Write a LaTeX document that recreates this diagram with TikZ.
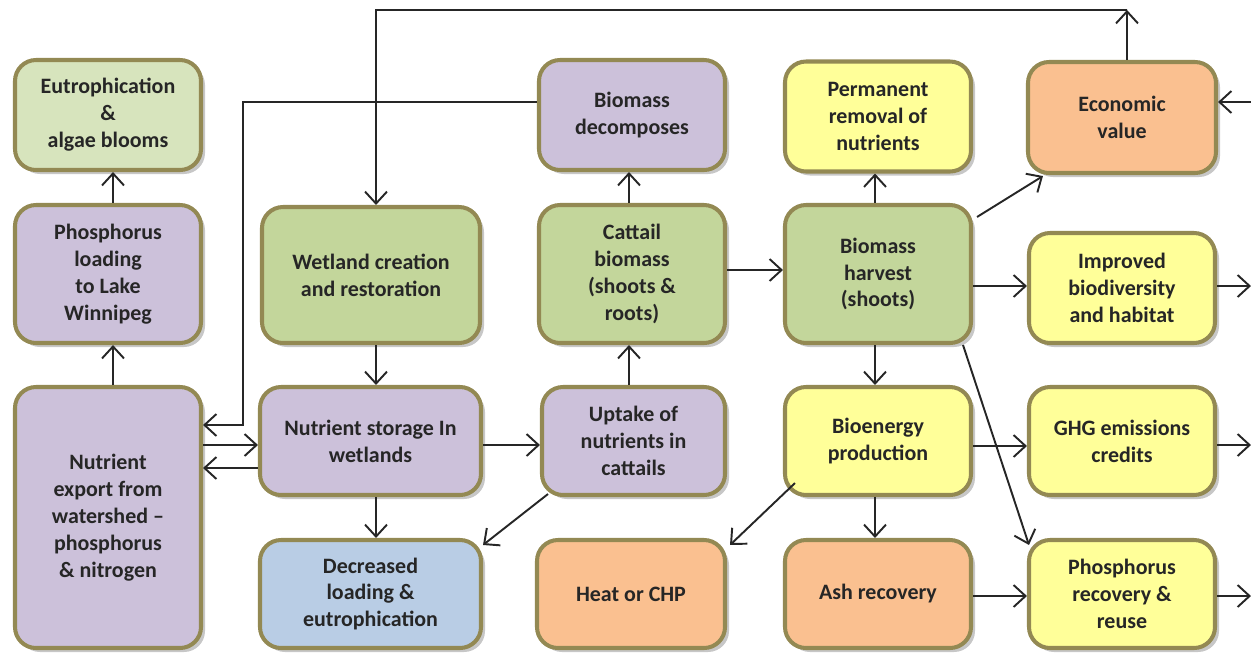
\documentclass[tikz,border=0pt]{standalone}
\usepackage{fontspec}
\setmainfont{Carlito}
\usetikzlibrary{arrows.meta,shadows,positioning}

\definecolor{boxborder}{HTML}{938953}
\definecolor{textgrey}{HTML}{262626}
\definecolor{palegreen}{HTML}{D7E4BD}
\definecolor{midgreen}{HTML}{C3D69B}
\definecolor{lilac}{HTML}{CCC1DA}
\definecolor{paleblue}{HTML}{B9CDE5}
\definecolor{paleyellow}{HTML}{FFFF99}
\definecolor{peach}{HTML}{FAC090}

\begin{document}
\begin{tikzpicture}[->,>={Straight Barb[length=2.4mm,width=4.4mm]},line width=1.1pt,color=textgrey,
  box node/.style={rectangle,rounded corners=0.42cm,draw=boxborder,line width=2.3pt,align=center,
    font=\bfseries\fontsize{12.5}{15.3}\selectfont,text=textgrey,minimum width=3.72cm,
    drop shadow={shadow xshift=0.08cm,shadow yshift=-0.08cm,fill=black!22,opacity=1}},
  light green node/.style={box node,fill=palegreen},
  green node/.style={box node,fill=midgreen},
  purple node/.style={box node,fill=lilac},
  blue node/.style={box node,fill=paleblue},
  yellow node/.style={box node,fill=paleyellow},
  orange node/.style={box node,fill=peach}]

  \useasboundingbox (0,0) rectangle (25.02,-13.12);

  % first column
  \node[light green node,minimum height=2.2cm] (Eutro) at (2.16,-2.30) {Eutrophication\\\&\\algae blooms};
  \node[purple node,minimum height=2.76cm] (PhosLoad) at (2.16,-5.48) {Phosphorus\\loading\\to Lake\\Winnipeg};
  \node[purple node,minimum height=5.22cm] (Export) at (2.16,-10.35) {Nutrient\\export from\\watershed –\\phosphorus\\\& nitrogen};

  % second column
  \node[green node,minimum width=4.36cm,minimum height=2.72cm] (Wetland) at (7.42,-5.50) {Wetland creation\\and restoration};
  \node[purple node,minimum width=4.42cm,minimum height=2.16cm] (Storage) at (7.41,-8.82) {Nutrient storage In\\wetlands};
  \node[blue node,minimum width=4.42cm,minimum height=2.16cm] (Decreased) at (7.41,-11.88) {Decreased\\loading \&\\eutrophication};

  % third column
  \node[purple node,minimum height=2.2cm] (Decompose) at (12.64,-2.30) {Biomass\\decomposes};
  \node[green node,minimum height=2.76cm] (Cattail) at (12.64,-5.48) {Cattail\\biomass\\(shoots \&\\roots)};
  \node[purple node,minimum width=3.66cm,minimum height=2.16cm] (Uptake) at (12.67,-8.82) {Uptake of\\nutrients in\\cattails};
  \node[orange node,minimum width=3.76cm,minimum height=2.16cm] (Heat) at (12.62,-11.88) {Heat or CHP};

  % fourth column
  \node[yellow node,minimum height=2.2cm] (Permanent) at (17.56,-2.33) {Permanent\\removal of\\nutrients};
  \node[green node,minimum height=2.76cm] (Harvest) at (17.56,-5.48) {Biomass\\harvest\\(shoots)};
  \node[yellow node,minimum height=2.16cm] (Bioenergy) at (17.56,-8.82) {Bioenergy\\production};
  \node[orange node,minimum height=2.16cm] (Ash) at (17.56,-11.88) {Ash recovery};

  % fifth column
  \node[orange node,minimum width=3.76cm,minimum height=2.22cm] (Economic) at (22.44,-2.35) {Economic\\value};
  \node[yellow node,minimum height=2.2cm] (Improved) at (22.44,-5.76) {Improved\\biodiversity\\and habitat};
  \node[yellow node,minimum height=2.16cm] (GHG) at (22.44,-8.82) {GHG emissions\\credits};
  \node[yellow node,minimum height=2.16cm] (PhosRec) at (22.44,-11.88) {Phosphorus\\recovery \&\\reuse};

  % free ends
  \coordinate (TopR) at (22.54,-0.2);
  \coordinate (TopL) at (7.52,-0.2);
  \coordinate (FbCorner) at (4.86,-2.04);
  \coordinate (FbLow) at (4.86,-8.5);
  \coordinate (OutEcon) at (25.02,-2.04);
  \coordinate (OutImpr) at (25.02,-5.72);
  \coordinate (OutGHG) at (25.02,-8.90);
  \coordinate (OutPhos) at (25.02,-11.92);

  % left part
  \draw ([xshift=0.1cm]PhosLoad.north) -- ([xshift=0.1cm]Eutro.south);
  \draw ([xshift=0.1cm]Export.north) -- ([xshift=0.1cm]PhosLoad.south);
  \draw ([yshift=1.45cm]Export.east) -- ([yshift=-0.08cm]Storage.west);
  \draw ([yshift=-0.54cm]Storage.west) -- ([yshift=0.99cm]Export.east);
  \draw ([yshift=0.26cm]Decompose.west) -- (FbCorner) -- (FbLow) -- ([yshift=1.85cm]Export.east);
  \draw ([xshift=0.1cm]Economic.north) -- (TopR);
  \draw (TopR) -- (TopL) -- ([xshift=0.1cm]Wetland.north);
  \draw ([xshift=0.1cm]Wetland.south) -- ([xshift=0.11cm]Storage.north);
  \draw ([xshift=0.11cm]Storage.south) -- ([xshift=0.11cm]Decreased.north);

  % middle part
  \draw ([yshift=-0.08cm]Storage.east) -- ([yshift=-0.08cm]Uptake.west);
  \draw ([shift={(0.16cm,0.06cm)}]Uptake.south west) -- ([yshift=-0.14cm]Decreased.north east);
  \draw ([xshift=-0.09cm]Uptake.north) -- ([xshift=-0.06cm]Cattail.south);
  \draw ([xshift=-0.06cm]Cattail.north) -- ([xshift=-0.06cm]Decompose.south);
  \draw ([yshift=0.08cm]Cattail.east) -- ([yshift=0.08cm]Harvest.west);

  % right part
  \draw ([xshift=-0.06cm]Harvest.north) -- ([xshift=-0.06cm]Permanent.south);
  \draw ([shift={(0.08cm,-0.28cm)}]Harvest.north east) -- ([shift={(0.34cm,-0.02cm)}]Economic.south west);
  \draw ([yshift=-0.24cm]Harvest.east) -- ([yshift=0.04cm]Improved.west);
  \draw ([xshift=-0.06cm]Harvest.south) -- ([xshift=-0.06cm]Bioenergy.north);
  \draw ([xshift=-0.2cm]Harvest.south east) -- ([shift={(0.04cm,-0.14cm)}]PhosRec.north west);
  \draw ([yshift=-0.1cm]Bioenergy.east) -- ([yshift=-0.1cm]GHG.west);
  \draw ([shift={(0.24cm,0.28cm)}]Bioenergy.south west) -- ([shift={(0.06cm,-0.14cm)}]Heat.north east);
  \draw ([xshift=-0.06cm]Bioenergy.south) -- ([xshift=-0.06cm]Ash.north);
  \draw ([yshift=-0.04cm]Ash.east) -- ([yshift=-0.04cm]PhosRec.west);

  % arrows leaving the picture
  \draw (OutEcon) -- ([yshift=0.31cm]Economic.east);
  \draw ([yshift=0.04cm]Improved.east) -- (OutImpr);
  \draw ([yshift=-0.08cm]GHG.east) -- (OutGHG);
  \draw ([yshift=-0.04cm]PhosRec.east) -- (OutPhos);
\end{tikzpicture}
\end{document}
